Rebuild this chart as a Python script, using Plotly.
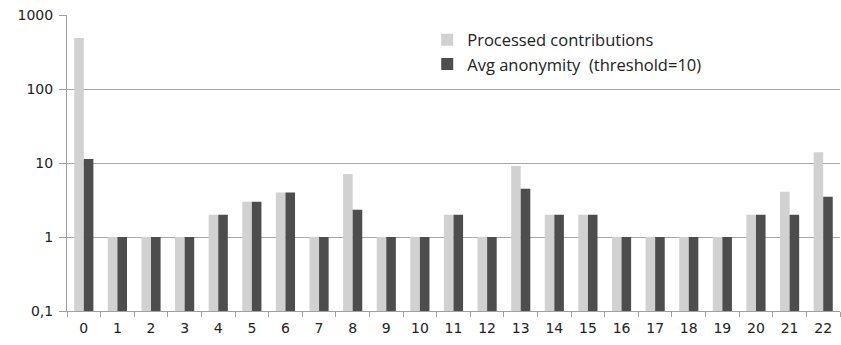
import plotly.graph_objects as go

categories = [str(i) for i in range(23)]
processed = [490, 1, 1, 1, 2, 3, 4, 1, 7.1, 1, 1, 2, 1, 9.1, 2, 2, 1, 1, 1, 1, 2, 4.1, 14]
anonymity = [11.3, 1, 1, 1, 2, 3, 4, 1, 2.33, 1, 1, 2, 1, 4.5, 2, 2, 1, 1, 1, 1, 2, 2, 3.5]
ytick_vals = [0.1, 1, 10, 100, 1000]
ytick_text = ["0,1", "1", "10", "100", "1000"]

fig = go.Figure()
fig.add_trace(go.Bar(x=categories, y=processed, name="Processed contributions",
                     marker=dict(color="#d0d1d0", line=dict(width=0))))
fig.add_trace(go.Bar(x=categories, y=anonymity, name="Avg anonymity  (threshold=10)",
                     marker=dict(color="#4d4d4d", line=dict(width=0))))

fig.update_layout(
    width=841, height=345,
    margin=dict(l=67, r=1, t=15, b=34),
    paper_bgcolor="white", plot_bgcolor="white",
    barmode="group", bargap=0.43, bargroupgap=0,
    font=dict(family="DejaVu Sans", size=14, color="#222"),
    showlegend=True,
    legend=dict(x=0.466, y=0.975, xanchor="left", yanchor="top",
                font=dict(family="Open Sans", size=16.5, color="#222"),
                bgcolor="rgba(0,0,0,0)", itemwidth=30, tracegroupgap=0,
                traceorder="normal"),
)
fig.update_xaxes(type="category", tickson="boundaries", ticks="outside", ticklen=5,
                 tickcolor="#a0a0a0", showline=True, linecolor="#a0a0a0",
                 showgrid=False, tickfont=dict(size=14), ticklabelstandoff=4)
fig.update_yaxes(type="log", range=[-1, 3], tickvals=ytick_vals, ticktext=ytick_text,
                 showgrid=True, gridcolor="#a8a8a8", gridwidth=1,
                 ticks="outside", ticklen=7, tickcolor="#a0a0a0",
                 showline=True, linecolor="#a0a0a0", zeroline=False,
                 tickfont=dict(size=14), ticklabelstandoff=3)

fig.write_html("out.html", config={"displayModeBar": False},
               post_script="document.body.style.margin='0';")
